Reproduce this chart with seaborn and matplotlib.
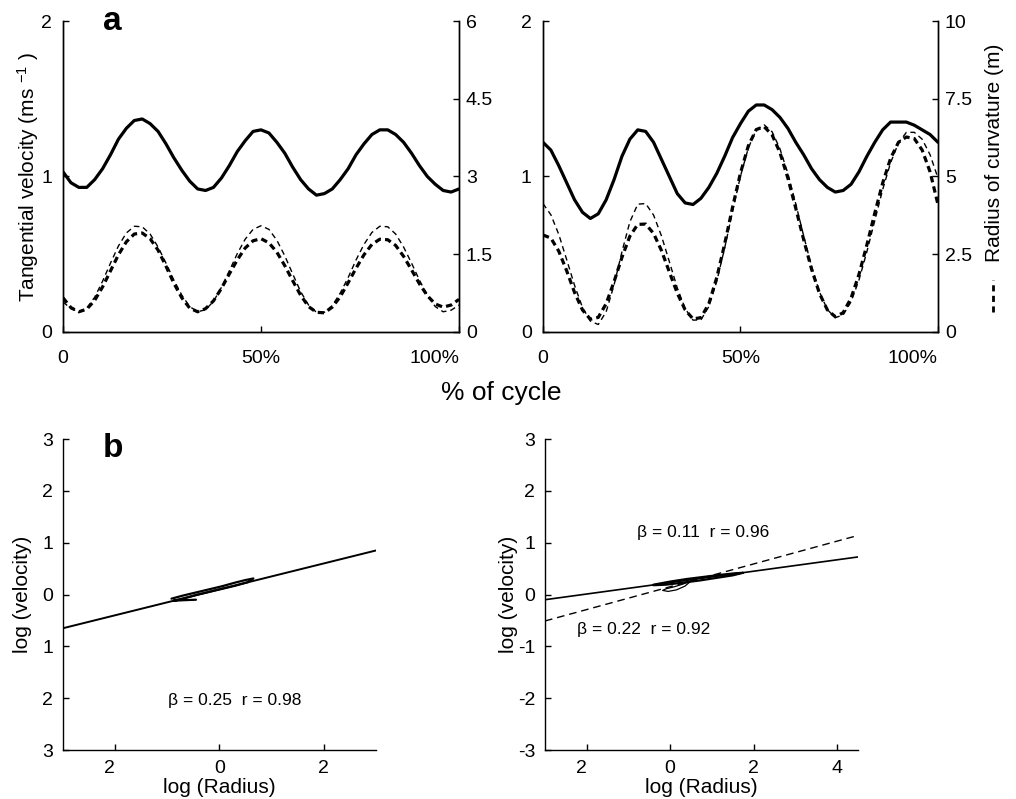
import pandas as pd
import seaborn as sns
import matplotlib.pyplot as plt
from matplotlib.lines import Line2D

# % of cycle, sampled every 2 %
cycle = list(range(0, 101, 2))

# panel a, left: tangential velocity (m/s) and radius of curvature (m)
vel_left = [1.03, 0.96, 0.93, 0.93, 0.98, 1.05, 1.14, 1.24, 1.31, 1.36, 1.37, 1.34, 1.29, 1.21, 1.12, 1.04, 0.97,
            0.92, 0.91, 0.93, 0.99, 1.07, 1.16, 1.23, 1.29, 1.30, 1.28, 1.22, 1.15, 1.06, 0.98, 0.92, 0.88, 0.89,
            0.92, 0.98, 1.05, 1.14, 1.21, 1.27, 1.30, 1.30, 1.27, 1.22, 1.15, 1.07, 1.00, 0.95, 0.91, 0.90, 0.92]
rad_left_thick = [0.66, 0.47, 0.39, 0.44, 0.61, 0.87, 1.18, 1.49, 1.74, 1.89, 1.91, 1.80, 1.58, 1.27, 0.94, 0.66, 0.46,
                  0.39, 0.45, 0.60, 0.84, 1.12, 1.39, 1.62, 1.76, 1.80, 1.72, 1.54, 1.28, 0.99, 0.71, 0.49, 0.38, 0.37,
                  0.48, 0.68, 0.95, 1.23, 1.49, 1.69, 1.79, 1.78, 1.67, 1.46, 1.20, 0.93, 0.70, 0.54, 0.48, 0.52, 0.63]
rad_left_thin = [0.58, 0.45, 0.39, 0.46, 0.67, 0.98, 1.33, 1.66, 1.91, 2.04, 2.03, 1.89, 1.64, 1.33, 1.00, 0.71, 0.49,
                 0.39, 0.43, 0.59, 0.86, 1.18, 1.51, 1.79, 1.98, 2.05, 1.98, 1.77, 1.47, 1.12, 0.78, 0.52, 0.38, 0.38,
                 0.51, 0.75, 1.05, 1.39, 1.69, 1.92, 2.04, 2.03, 1.89, 1.64, 1.33, 1.00, 0.71, 0.49, 0.39, 0.42, 0.52]

# panel a, right
vel_right = [1.22, 1.17, 1.07, 0.96, 0.85, 0.77, 0.73, 0.76, 0.85, 0.98, 1.13, 1.24, 1.30, 1.29, 1.22, 1.11, 1.00,
             0.89, 0.83, 0.82, 0.86, 0.93, 1.02, 1.13, 1.25, 1.34, 1.42, 1.46, 1.46, 1.43, 1.38, 1.31, 1.22, 1.14,
             1.05, 0.98, 0.93, 0.90, 0.91, 0.95, 1.03, 1.13, 1.22, 1.30, 1.35, 1.35, 1.35, 1.33, 1.30, 1.27, 1.22]
rad_right_thick = [3.12, 3.02, 2.60, 1.97, 1.27, 0.71, 0.41, 0.47, 0.91, 1.62, 2.40, 3.08, 3.46, 3.47, 3.17, 2.62, 1.93,
                   1.25, 0.71, 0.42, 0.46, 0.91, 1.75, 2.83, 4.01, 5.11, 5.99, 6.51, 6.60, 6.34, 5.77, 4.95, 3.98, 2.97,
                   2.02, 1.24, 0.71, 0.49, 0.62, 1.09, 1.85, 2.80, 3.82, 4.79, 5.58, 6.10, 6.27, 6.22, 5.85, 5.15, 4.10]
rad_right_thin = [4.13, 3.77, 3.14, 2.33, 1.50, 0.79, 0.35, 0.24, 0.65, 1.51, 2.58, 3.54, 4.11, 4.13, 3.76, 3.09, 2.26,
                  1.42, 0.75, 0.38, 0.39, 0.82, 1.63, 2.70, 3.88, 5.01, 5.92, 6.50, 6.66, 6.44, 5.89, 5.10, 4.12, 3.09,
                  2.11, 1.29, 0.72, 0.46, 0.55, 0.97, 1.67, 2.58, 3.58, 4.58, 5.44, 6.08, 6.42, 6.42, 6.20, 5.70, 4.95]

# panel b, left: log velocity vs log radius loop and its fit
loop_left_x = [-0.92, -0.70, -0.45, -0.20, 0.05, 0.30, 0.50, 0.65, 0.55, 0.30, 0.05, -0.20, -0.45, -0.70, -0.88,
               -0.70, -0.45]
loop_left_y = [-0.08, -0.02, 0.04, 0.10, 0.16, 0.23, 0.28, 0.31, 0.24, 0.17, 0.11, 0.05, -0.01, -0.08, -0.12,
               -0.11, -0.10]
beta_left, icpt_left, r_left = 0.25, 0.10, 0.98

# panel b, right: two loops, two fits
loop_r1_x = [-0.40, 0.00, 0.40, 0.80, 1.20, 1.55, 1.75, 1.50, 1.10, 0.70, 0.30, -0.10, -0.40]
loop_r1_y = [0.19, 0.25, 0.30, 0.34, 0.38, 0.41, 0.42, 0.37, 0.32, 0.27, 0.23, 0.19, 0.18]
loop_r2_x = [0.50, 0.30, 0.10, -0.10, -0.18, -0.05, 0.15, 0.35, 0.50]
loop_r2_y = [0.26, 0.20, 0.15, 0.11, 0.08, 0.06, 0.09, 0.16, 0.26]
beta_r1, icpt_r1, r_r1 = 0.11, 0.23, 0.96
beta_r2, icpt_r2, r_r2 = 0.22, 0.15, 0.92

sns.set_style('ticks')
plt.rcParams['font.family'] = ['Liberation Sans', 'DejaVu Sans']
plt.rcParams['mathtext.fontset'] = 'custom'
plt.rcParams['mathtext.rm'] = 'Liberation Sans'
plt.rcParams['mathtext.it'] = 'Liberation Sans:italic'
plt.rcParams['axes.linewidth'] = 1.0
# plain black text and axes, not seaborn's dark grey
for key in ['text.color', 'axes.labelcolor', 'axes.edgecolor', 'xtick.color', 'ytick.color']:
    plt.rcParams[key] = 'black'
plt.rcParams['lines.solid_joinstyle'] = 'round'
plt.rcParams['lines.dash_joinstyle'] = 'round'

fig = plt.figure(figsize=(10.16, 7.99), dpi=100)
ax_tl = fig.add_axes([0.062, 0.5845, 0.3898, 0.3892])
ax_tr = fig.add_axes([0.5344, 0.5845, 0.3888, 0.3892])
ax_bl = fig.add_axes([0.062, 0.0613, 0.308, 0.3892])
ax_br = fig.add_axes([0.5364, 0.0613, 0.308, 0.3892])

df_left = pd.DataFrame({'cycle': cycle, 'vel': vel_left, 'thick': rad_left_thick, 'thin': rad_left_thin})
df_right = pd.DataFrame({'cycle': cycle, 'vel': vel_right, 'thick': rad_right_thick, 'thin': rad_right_thin})


def draw_cycle(ax, df, rmax, rticks, rlabels):
    sns.lineplot(data=df, x='cycle', y='vel', ax=ax, color='black', linewidth=2.3)
    ax2 = ax.twinx()
    sns.lineplot(data=df, x='cycle', y='thin', ax=ax2, color='black', linewidth=1.0, linestyle='--')
    ax2.lines[-1].set_dashes([4.0, 2.8])
    sns.lineplot(data=df, x='cycle', y='thick', ax=ax2, color='black', linewidth=2.3, linestyle='--')
    ax2.lines[-1].set_dashes([2.0, 1.3])
    ax.set_xlim(0, 100)
    ax.set_ylim(0, 2)
    ax2.set_ylim(0, rmax)
    ax.set_xticks([0, 50, 100])
    ax.set_xticklabels(['0', '50%', '100%'])
    ax.get_xticklabels()[-1].set_ha('right')
    ax.set_yticks([0, 1, 2])
    ax.set_yticklabels(['0', '1', '2'])
    ax2.set_yticks(rticks)
    ax2.set_yticklabels(rlabels)
    ax.set_xlabel('')
    ax.set_ylabel('')
    ax2.set_ylabel('')
    for a in (ax, ax2):
        a.spines['top'].set_visible(False)
    ax.tick_params(axis='x', direction='in', length=4, width=1, labelsize=14, pad=13)
    ax.tick_params(axis='y', direction='in', length=4, width=1, labelsize=14, pad=8)
    ax2.tick_params(axis='y', direction='in', length=4, width=1, labelsize=14, pad=5)
    return ax2


draw_cycle(ax_tl, df_left, 6, [0, 1.5, 3, 4.5, 6], ['0', '1.5', '3', '4.5', '6'])
ax_tr2 = draw_cycle(ax_tr, df_right, 10, [0, 2.5, 5, 7.5, 10], ['0', '2.5', '5', '7.5', '10'])

ax_tl.set_ylabel('Tangential velocity (ms $^{-1}$ )', fontsize=15)
ax_tl.yaxis.set_label_coords(-0.088, 0.5)
ax_tl.yaxis.label.set_va('center')

ax_tr2.set_ylabel('Radius of curvature (m)', fontsize=15)
ax_tr2.yaxis.set_label_coords(1.144, 0.576)
ax_tr2.yaxis.label.set_va('center')
# dashed key in front of the right-hand label
fig.add_artist(Line2D([993 / 1016, 993 / 1016], [1 - 312 / 799, 1 - 280 / 799], transform=fig.transFigure,
                      color='black', linewidth=2.0, dashes=[2.2, 1.6]))

# panel b
sns.lineplot(x=loop_left_x, y=loop_left_y, ax=ax_bl, sort=False, estimator=None, color='black', linewidth=1.6)
ax_bl.axline((0, icpt_left), slope=beta_left, color='black', linewidth=1.4)
ax_bl.text(0.29, -2.04, f'β = {beta_left:.2f}  r = {r_left:.2f}', fontsize=12.5, ha='center', va='center')
ax_bl.set_xlim(-3, 3)
ax_bl.set_ylim(-3, 3)
ax_bl.set_xticks([-2, 0, 2])
ax_bl.set_xticklabels(['2', '0', '2'])
ax_bl.get_xticklabels()[0].set_ha('right')
ax_bl.set_yticks([-3, -2, -1, 0, 1, 2, 3])
ax_bl.set_yticklabels(['3', '2', '1', '0', '1', '2', '3'])

sns.lineplot(x=loop_r1_x, y=loop_r1_y, ax=ax_br, sort=False, estimator=None, color='black', linewidth=1.6)
sns.lineplot(x=loop_r2_x, y=loop_r2_y, ax=ax_br, sort=False, estimator=None, color='black', linewidth=0.9)
ax_br.axline((0, icpt_r1), slope=beta_r1, color='black', linewidth=1.2)
ax_br.axline((0, icpt_r2), slope=beta_r2, color='black', linewidth=1.0, dashes=[5.5, 3.5])
ax_br.text(0.78, 1.19, f'β = {beta_r1:.2f}  r = {r_r1:.2f}', fontsize=12.5, ha='center', va='center')
ax_br.text(-0.63, -0.67, f'β = {beta_r2:.2f}  r = {r_r2:.2f}', fontsize=12.5, ha='center', va='center')
ax_br.set_xlim(-3, 4.5)
ax_br.set_ylim(-3, 3)
ax_br.set_xticks([-2, 0, 2, 4])
ax_br.set_xticklabels(['2', '0', '2', '4'])
ax_br.get_xticklabels()[0].set_ha('right')
ax_br.set_yticks([-3, -2, -1, 0, 1, 2, 3])
ax_br.set_yticklabels(['-3', '-2', '-1', '0', '1', '2', '3'])

for ax, lx in ((ax_bl, -0.128), (ax_br, -0.118)):
    sns.despine(ax=ax)
    ax.tick_params(direction='in', length=4, width=1, labelsize=14, pad=7)
    ax.set_xlabel('log (Radius)', fontsize=15)
    ax.set_ylabel('log (velocity)', fontsize=15)
    ax.xaxis.set_label_coords(0.5, -0.119)
    ax.xaxis.label.set_va('center')
    ax.yaxis.set_label_coords(lx, 0.5)
    ax.yaxis.label.set_va('center')

fig.text(501 / 1016, 1 - 393 / 799, '% of cycle', fontsize=19, ha='center', va='center')
fig.text(103 / 1016, 1 - 30 / 799, 'a', fontsize=24, fontweight='bold', ha='left', va='baseline')
fig.text(103 / 1016, 1 - 457 / 799, 'b', fontsize=24, fontweight='bold', ha='left', va='baseline')

fig.savefig('out.png', dpi=100)
